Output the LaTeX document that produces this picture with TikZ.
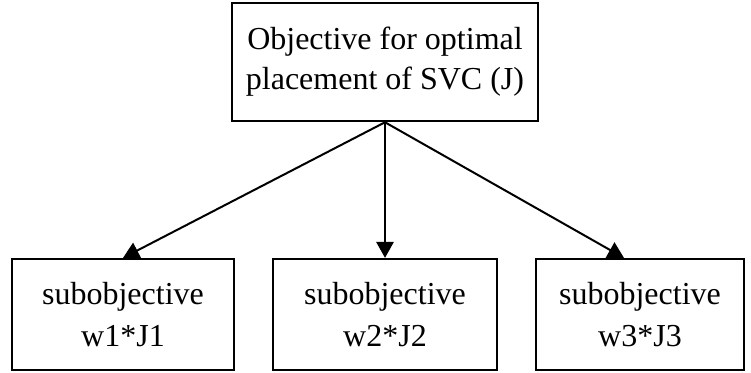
\documentclass[tikz,border=0pt]{standalone}
\usepackage{fontspec}
\setmainfont{Liberation Serif}
\usetikzlibrary{arrows.meta}

\begin{document}
\begin{tikzpicture}[
    x=0.75pt, y=-0.75pt,
    % Box styles (objective and subobjectives)
    goal/.style={draw=black, line width=1.9pt, fill=white, text=black, font=\fontsize{24}{30}\selectfont, align=center, minimum width=229.5pt, minimum height=88.5pt, inner sep=0pt},
    sub/.style={draw=black, line width=1.9pt, fill=white, text=black, font=\fontsize{24}{32}\selectfont, align=center, minimum width=#1, minimum height=83pt, inner sep=0pt},
    link/.style={line width=1.5pt, draw=black, -{Triangle[width=13pt,length=12pt]}}
]
\useasboundingbox (0,0) rectangle (751,373);

% ---------------------------------------------------------
% 1. BOXES AND TEXT (Nodes)
% ---------------------------------------------------------
% OBJECTIVE
\node[goal] (goal) at (385, 62) {Objective for optimal\\placement of SVC (J)};

% --- SUBOBJECTIVES ---
\node[sub=166.5pt] (sub1) at (123, 314.5) {subobjective\\w1*J1};
\node[sub=168pt] (sub2) at (385, 314.5) {subobjective\\w2*J2};
\node[sub=156pt] (sub3) at (640, 314.5) {subobjective\\w3*J3};

% ---------------------------------------------------------
% 2. CONNECTIONS (Arrows)
% ---------------------------------------------------------
\draw[link] (goal.south) -- (sub1.north);
\draw[link] (goal.south) -- (sub2.north);
\draw[link] (goal.south) -- ([xshift=-12pt]sub3.north);

\end{tikzpicture}
\end{document}
